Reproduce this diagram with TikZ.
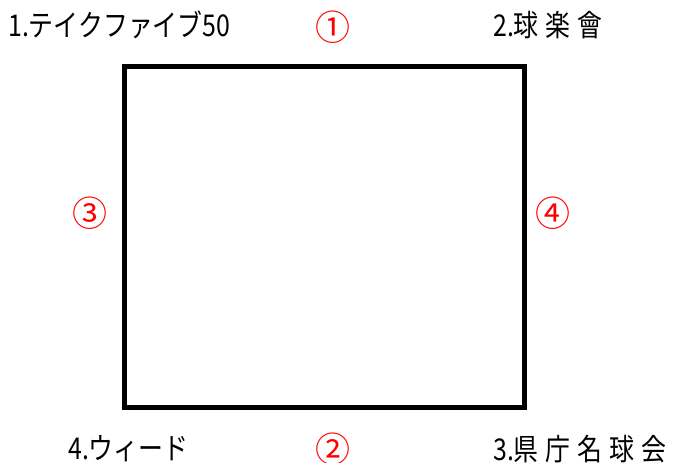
\documentclass[tikz,border=0pt]{standalone}
\usepackage{fontspec}
\newfontfamily\jp[FakeStretch=0.83]{Noto Sans CJK JP}
\newfontfamily\jpc{Noto Sans CJK JP}
\newcommand\kg{\hspace{7pt}}
\begin{document}
\begin{tikzpicture}[x=1pt,y=1pt,
  lbl/.style={font=\jp\fontsize{30}{30}\selectfont, inner sep=0pt, text=black},
  num/.style={font=\jpc\fontsize{35}{35}\selectfont, inner sep=0pt, text=red},
  box/.style={draw=black, line width=5pt}]
\useasboundingbox (0,0) rectangle (673,463);
\node[box, minimum width=400pt, minimum height=341pt, inner sep=0pt, outer sep=0pt, anchor=south west] (frame) at (124.5,55.5) {};
\node[lbl, anchor=west] (t1) at (8,438) {1.テイクファイブ50};
\node[lbl, anchor=west] (t2) at (493,438) {2.球\kg 楽\kg 會};
\node[lbl, anchor=west] (t3) at (493,14) {3.県\kg 庁\kg 名\kg 球\kg 会};
\node[lbl, anchor=west] (t4) at (68,14) {4.ウィード};
\node[num] (n1) at (333,436) {①};
\node[num] (n2) at (333,14) {②};
\node[num] (n3) at (90,250) {③};
\node[num] (n4) at (553,250) {④};
\end{tikzpicture}
\end{document}
